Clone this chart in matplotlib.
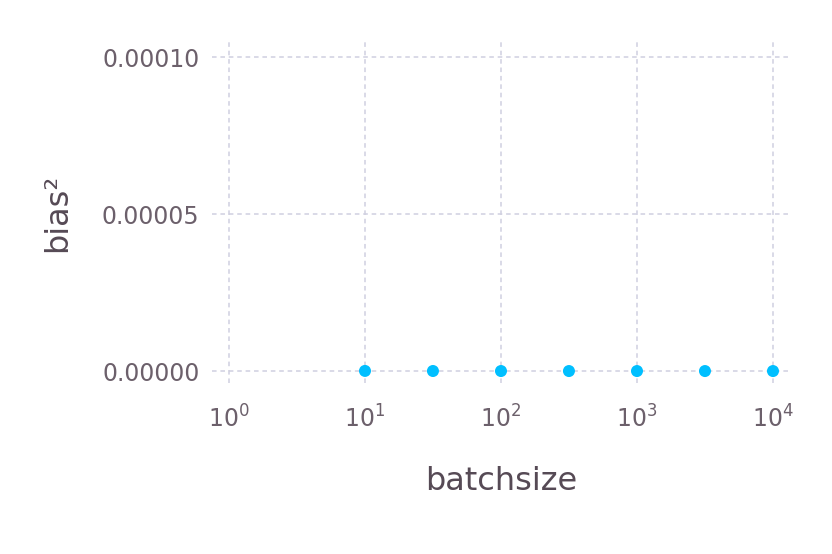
import matplotlib
matplotlib.use("Agg")
import matplotlib.pyplot as plt
from matplotlib.ticker import LogFormatterSciNotation, FixedLocator, FormatStrFormatter

# data
batchsize = [10, 31.6, 100, 316, 1000, 3162, 10000]
bias2 = [4e-8, 1.5e-8, 5e-9, 1.5e-9, 5e-10, 1.5e-10, 5e-11]
y_ticks = [0.0, 0.00005, 0.00010]

label_color = "#564a55"
tick_color = "#6c606b"
grid_color = "#d0d0e0"

plt.rcParams["mathtext.default"] = "regular"

fig = plt.figure(figsize=(8.32, 5.54), dpi=100)
ax = fig.add_axes([0.2548, 0.3087, 0.6947, 0.6155])

ax.scatter(batchsize, bias2, s=75, color="#00bfff", edgecolors="none", zorder=3)

ax.set_xscale("log")
ax.set_xlim(10 ** -0.125, 10 ** 4.125)
ax.set_ylim(-0.0000038, 0.0001048)
ax.xaxis.set_major_locator(FixedLocator([1, 10, 100, 1000, 10000]))
ax.xaxis.set_major_formatter(LogFormatterSciNotation())
ax.xaxis.set_minor_locator(FixedLocator([]))
ax.yaxis.set_major_locator(FixedLocator(y_ticks))
ax.yaxis.set_major_formatter(FormatStrFormatter("%.5f"))

ax.grid(True, color=grid_color, linestyle=(0, (3, 2.5)), linewidth=1.1)
ax.set_axisbelow(True)
for s in ax.spines.values():
    s.set_visible(False)

ax.tick_params(axis="both", length=0, labelsize=17, colors=tick_color)
ax.tick_params(axis="x", pad=16)
ax.tick_params(axis="y", pad=9)

ax.set_xlabel("batchsize", fontsize=23, color=label_color, labelpad=24)
ax.set_ylabel("bias²", fontsize=23, color=label_color, labelpad=21)

fig.savefig("out.png", dpi=100)
